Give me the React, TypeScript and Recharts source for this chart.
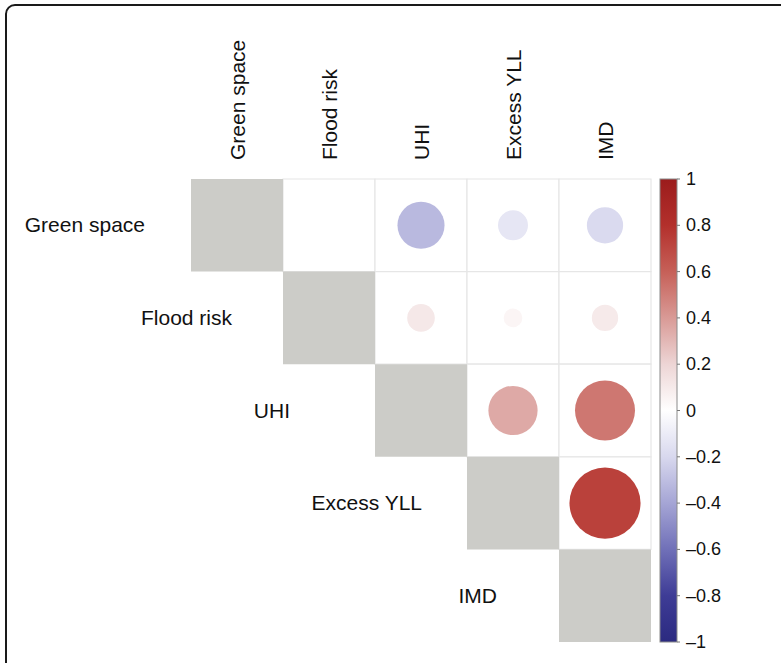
import React from 'react';
import { ScatterChart, Scatter, XAxis, YAxis, ZAxis, ReferenceArea, Cell } from 'recharts';

// ---- data ----
const variables = ['Green space', 'Flood risk', 'UHI', 'Excess YLL', 'IMD'];
// correlations of each row variable with the variables to its right (upper triangle)
const rowGreenSpace = [0.0, -0.32, -0.13, -0.19];
const rowFloodRisk = [0.11, 0.05, 0.1];
const rowUHI = [0.35, 0.52];
const rowExcessYLL = [0.73];
const colorbarTicks = [1, 0.8, 0.6, 0.4, 0.2, 0, -0.2, -0.4, -0.6, -0.8, -1];

// ---- style ----
const FONT = '"Liberation Sans", Arial, Helvetica, sans-serif';
const palette: [number, string][] = [
  [-1, '#2B2A80'],
  [-0.8, '#3E3C96'],
  [-0.6, '#7070B8'],
  [-0.4, '#A5A5D5'],
  [-0.2, '#D8D8EE'],
  [0, '#FFFFFF'],
  [0.2, '#EDD5D5'],
  [0.4, '#D99A96'],
  [0.6, '#C66058'],
  [0.8, '#B3302C'],
  [1, '#9B1C1C'],
];
const rowLabelRight = [145, 232, 290, 422, 497];

function hexToRgb(h: string) {
  const n = parseInt(h.slice(1), 16);
  return [(n >> 16) & 255, (n >> 8) & 255, n & 255];
}
function colorFor(v: number) {
  for (let i = 0; i < palette.length - 1; i++) {
    const [a, ca] = palette[i];
    const [b, cb] = palette[i + 1];
    if (v >= a && v <= b) {
      const t = (v - a) / (b - a);
      const A = hexToRgb(ca);
      const B = hexToRgb(cb);
      const c = A.map((x, k) => Math.round(x + (B[k] - x) * t));
      return `rgb(${c[0]},${c[1]},${c[2]})`;
    }
  }
  return '#fff';
}

const rows = [rowGreenSpace, rowFloodRisk, rowUHI, rowExcessYLL];
const points = rows.flatMap((vals, i) =>
  vals.map((r, k) => {
    const j = i + 1 + k;
    return { x: j + 0.5, y: i + 0.5, z: Math.abs(r), r };
  })
);
const upperCells = rows.flatMap((vals, i) => vals.map((_, k) => ({ i, j: i + 1 + k })));
const cellTicks = variables.map((_, i) => i + 0.5);
// anchor points that bind the colour-bar axis to the scale [-1, 1]
const colorbarRange = [
  { x: 2.5, cb: -1, z: 0 },
  { x: 2.5, cb: 1, z: 0 },
];

const fmt = (v: number) => (v === 0 ? '0' : v < 0 ? '\u2013' + Math.abs(v) : String(v));

const TopTick = (props: any) => {
  const { x, index } = props;
  return (
    <text
      x={x + 8}
      y={160}
      transform={`rotate(-90 ${x + 8} 160)`}
      textAnchor="start"
      fontFamily={FONT}
      fontSize={21}
      fill="#111"
    >
      {variables[index]}
    </text>
  );
};

const LeftTick = (props: any) => {
  const { y, index } = props;
  return (
    <text x={rowLabelRight[index]} y={y} dy={7} textAnchor="end" fontFamily={FONT} fontSize={21} fill="#111">
      {variables[index]}
    </text>
  );
};

const BarTick = (props: any) => {
  const { x, y, payload } = props;
  return (
    <g>
      <line x1={x - 9} x2={x - 6} y1={y} y2={y} stroke="#777" strokeWidth={1} />
      <text x={x} y={y} dy={6} textAnchor="start" fontFamily={FONT} fontSize={18} fill="#111">
        {fmt(payload.value)}
      </text>
    </g>
  );
};

const ColorBar = (props: any) => {
  const vb = props.viewBox || {};
  const bx = vb.x + 9;
  return (
    <g>
      <defs>
        <linearGradient id="cbGrad" x1="0" y1="0" x2="0" y2="1">
          {palette
            .slice()
            .reverse()
            .map(([v, c]) => (
              <stop key={v} offset={`${((1 - v) / 2) * 100}%`} stopColor={c} />
            ))}
        </linearGradient>
      </defs>
      <rect x={bx} y={vb.y} width={17} height={vb.height} fill="url(#cbGrad)" stroke="#8a8a8a" strokeWidth={1} />
    </g>
  );
};

export default function App() {
  return (
    <div style={{ position: 'absolute', left: 0, top: 0, width: 781, height: 663, overflow: 'hidden', background: '#fff' }}>
      <div
        style={{
          position: 'absolute',
          left: 5,
          top: 4,
          width: 820,
          height: 720,
          border: '2px solid #1a1a1a',
          borderRadius: 10,
          boxSizing: 'border-box',
        }}
      />
      <div style={{ position: 'absolute', left: 0, top: 0 }}>
        <ScatterChart width={781} height={663} margin={{ top: 0, right: 0, bottom: 21, left: 0 }}>
          <XAxis
            type="number"
            dataKey="x"
            orientation="top"
            domain={[0, 5]}
            ticks={cellTicks}
            height={179}
            axisLine={false}
            tickLine={false}
            tick={<TopTick />}
            interval={0}
          />
          <YAxis
            type="number"
            dataKey="y"
            domain={[0, 5]}
            reversed
            ticks={cellTicks}
            width={191}
            axisLine={false}
            tickLine={false}
            tick={<LeftTick />}
            interval={0}
          />
          <YAxis
            yAxisId="cb"
            dataKey="cb"
            orientation="right"
            type="number"
            domain={[-1, 1]}
            ticks={colorbarTicks}
            width={130}
            axisLine={false}
            tickLine={false}
            tickSize={0}
            tickMargin={35}
            tick={<BarTick />}
            interval={0}
            label={{ content: <ColorBar /> }}
          />
          <ZAxis type="number" dataKey="z" domain={[0, 1]} range={[0, 5437]} />
          {upperCells.map((c) => (
            <ReferenceArea
              key={`u${c.i}-${c.j}`}
              x1={c.j}
              x2={c.j + 1}
              y1={c.i}
              y2={c.i + 1}
              fill="#ffffff"
              fillOpacity={1}
              stroke="#e6e6e6"
              strokeWidth={1.2}
            />
          ))}
          {variables.map((_, i) => (
            <ReferenceArea
              key={`d${i}`}
              x1={i}
              x2={i + 1}
              y1={i}
              y2={i + 1}
              fill="#CCCCC8"
              fillOpacity={1}
              stroke="none"
            />
          ))}
          <Scatter data={points} isAnimationActive={false}>
            {points.map((p, idx) => (
              <Cell key={idx} fill={colorFor(p.r)} />
            ))}
          </Scatter>
          <Scatter
            data={colorbarRange}
            yAxisId="cb"
            isAnimationActive={false}
            shape={() => <g />}
            legendType="none"
          />
        </ScatterChart>
      </div>
    </div>
  );
}
